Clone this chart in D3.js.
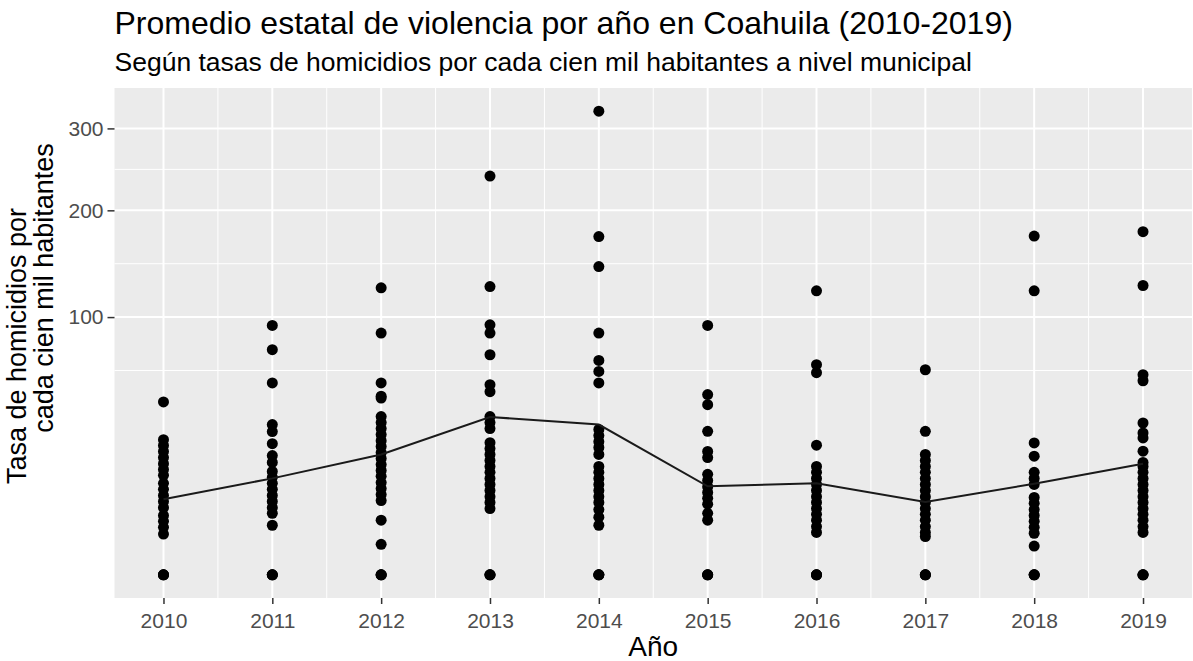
<!DOCTYPE html>
<html>
<head>
<meta charset="utf-8">
<script src="https://cdn.jsdelivr.net/npm/d3@7"></script>
<style>
  body { margin: 0; background: #fff; }
  text { font-family: "Liberation Sans", Arial, sans-serif; }
</style>
</head>
<body>
<script>
// years and state average (line)
const years = [2010, 2011, 2012, 2013, 2014, 2015, 2016, 2017, 2018, 2019];
const promedio = [8.6, 14.0, 21.8, 37.5, 34.0, 11.8, 12.6, 8.0, 12.5, 18.6];

// municipal rates per year (points)
const tasas2010 = [45, 27.5, 25.2, 22.9, 20.7, 18.6, 16.7, 14.9, 12.6, 11.0, 9.5, 8.1, 6.8, 5.3, 4.3, 3.4, 2.5, 0, 0, 0];
const tasas2011 = [93.6, 76.3, 55.4, 34.0, 30.9, 25.9, 21.4, 19.0, 16.1, 14.3, 12.6, 11.0, 9.5, 8.1, 6.8, 5.7, 3.7, 0, 0, 0];
const tasas2012 = [124, 88, 55.4, 48.0, 47.0, 37.7, 34.9, 32.2, 29.6, 27.1, 24.8, 22.5, 20.4, 18.3, 16.4, 14.6, 12.8, 11.2, 9.7, 8.3, 4.5, 1.4, 0, 0, 0];
const tasas2013 = [239.4, 125.1, 94.1, 88.0, 72.9, 54.4, 50.5, 37.7, 34.9, 32.2, 26.3, 24.0, 21.8, 19.7, 17.7, 15.8, 14.0, 12.3, 10.7, 9.2, 7.9, 6.6, 0, 0, 0];
const tasas2014 = [323.6, 172.2, 143.0, 88.0, 69.2, 62.3, 55.4, 31.8, 29.2, 26.7, 24.4, 21.8, 17.7, 15.8, 14.0, 12.3, 10.7, 9.2, 7.9, 6.4, 5.0, 3.7, 0, 0, 0];
const tasas2015 = [93.6, 48.9, 43.6, 31.0, 22.9, 20.7, 15.2, 13.4, 11.7, 10.2, 8.8, 7.5, 5.7, 4.5, 0, 0, 0];
const tasas2016 = [121.4, 66.5, 61.5, 25.3, 17.7, 15.8, 14.0, 12.3, 10.7, 9.2, 7.9, 6.6, 5.5, 4.5, 3.5, 2.7, 0, 0, 0];
const tasas2017 = [63.3, 31.0, 21.8, 19.7, 17.7, 15.8, 14.0, 12.3, 10.7, 9.2, 7.9, 6.6, 5.5, 4.5, 3.5, 2.7, 2.2, 0, 0, 0];
const tasas2018 = [172.8, 121.4, 26.2, 21.2, 15.8, 14.0, 12.3, 9.0, 7.7, 6.4, 5.3, 4.3, 3.4, 2.6, 1.24, 0, 0, 0];
const tasas2019 = [177.3, 126.0, 60.3, 56.7, 34.7, 30.3, 28.2, 23.0, 19.0, 17.7, 15.8, 14.0, 12.3, 10.7, 9.2, 7.9, 6.6, 5.5, 4.5, 3.5, 2.7, 0, 0, 0];

const tasasPorAnio = [tasas2010, tasas2011, tasas2012, tasas2013, tasas2014, tasas2015, tasas2016, tasas2017, tasas2018, tasas2019];
const yTicks = [100, 200, 300];

const width = 1193, height = 661;
const panel = { left: 114.5, right: 1192, top: 88, bottom: 598 };

const points = [];
tasasPorAnio.forEach((arr, i) => arr.forEach(v => points.push({ year: years[i], value: v })));

const svg = d3.select('body').append('svg')
    .attr('width', width)
    .attr('height', height);

const x = d3.scaleLinear()
    .domain([years[0] - 0.45, years[years.length - 1] + 0.45])
    .range([panel.left, panel.right]);

// sqrt scale with ggplot-like 5% expansion in transformed space
const sMax = Math.sqrt(d3.max(points, d => d.value));
const y = d3.scaleSqrt()
    .domain([-Math.pow(0.05 * sMax, 2), Math.pow(1.05 * sMax, 2)])
    .range([panel.bottom, panel.top]);

// panel background
svg.append('rect')
    .attr('x', panel.left)
    .attr('y', panel.top)
    .attr('width', panel.right - panel.left)
    .attr('height', panel.bottom - panel.top)
    .attr('fill', '#ebebeb');

// minor grid (midpoints in sqrt space)
const sq = yTicks.map(Math.sqrt);
const step = sq[1] - sq[0];
const yMinor = [sq[0] - step / 2].concat(sq.slice(1).map((s, i) => (s + sq[i]) / 2))
    .map(s => s * s);
const xMinor = years.slice(0, -1).map(d => d + 0.5);

const grid = svg.append('g');
grid.selectAll('.ymin').data(yMinor).enter().append('line')
    .attr('x1', panel.left).attr('x2', panel.right)
    .attr('y1', d => y(d)).attr('y2', d => y(d))
    .attr('stroke', '#fff').attr('stroke-width', 1);
grid.selectAll('.xmin').data(xMinor).enter().append('line')
    .attr('x1', d => x(d)).attr('x2', d => x(d))
    .attr('y1', panel.top).attr('y2', panel.bottom)
    .attr('stroke', '#fff').attr('stroke-width', 1);
grid.selectAll('.ymaj').data(yTicks).enter().append('line')
    .attr('x1', panel.left).attr('x2', panel.right)
    .attr('y1', d => y(d)).attr('y2', d => y(d))
    .attr('stroke', '#fff').attr('stroke-width', 2);
grid.selectAll('.xmaj').data(years).enter().append('line')
    .attr('x1', d => x(d)).attr('x2', d => x(d))
    .attr('y1', panel.top).attr('y2', panel.bottom)
    .attr('stroke', '#fff').attr('stroke-width', 2);

// points
svg.append('g')
    .selectAll('circle')
    .data(points)
    .enter()
    .append('circle')
    .attr('cx', d => x(d.year))
    .attr('cy', d => y(d.value))
    .attr('r', 5.5)
    .attr('fill', '#000');

// mean line
const line = d3.line()
    .x((d, i) => x(years[i]))
    .y(d => y(d));
svg.append('path')
    .datum(promedio)
    .attr('d', line)
    .attr('fill', 'none')
    .attr('stroke', '#1a1a1a')
    .attr('stroke-width', 2);

// axes
const xAxis = svg.append('g')
    .attr('transform', `translate(0,${panel.bottom})`)
    .call(d3.axisBottom(x).tickValues(years).tickFormat(d3.format('d')).tickSize(6).tickPadding(9));
const yAxis = svg.append('g')
    .attr('transform', `translate(${panel.left},0)`)
    .call(d3.axisLeft(y).tickValues(yTicks).tickSize(7).tickPadding(4));

[xAxis, yAxis].forEach(a => {
    a.select('.domain').remove();
    a.selectAll('.tick line').attr('stroke', '#333').attr('stroke-width', 1.5);
    a.selectAll('.tick text')
        .attr('fill', '#4d4d4d')
        .style('font-size', '21px')
        .style('font-family', '"Liberation Sans", Arial, sans-serif');
});

// titles
svg.append('text')
    .attr('x', panel.left)
    .attr('y', 34)
    .style('font-size', '32px')
    .attr('fill', '#000')
    .text('Promedio estatal de violencia por año en Coahuila (2010-2019)');

svg.append('text')
    .attr('x', panel.left)
    .attr('y', 71)
    .style('font-size', '26.5px')
    .attr('fill', '#000')
    .text('Según tasas de homicidios por cada cien mil habitantes a nivel municipal');

svg.append('text')
    .attr('x', (panel.left + panel.right) / 2)
    .attr('y', 656)
    .attr('text-anchor', 'middle')
    .style('font-size', '28px')
    .text('Año');

svg.append('text')
    .attr('transform', 'translate(26,346) rotate(-90)')
    .attr('text-anchor', 'middle')
    .style('font-size', '27px')
    .text('Tasa de homicidios por');
svg.append('text')
    .attr('transform', 'translate(53,288) rotate(-90)')
    .attr('text-anchor', 'middle')
    .style('font-size', '27px')
    .text('cada cien mil habitantes');
</script>
</body>
</html>
